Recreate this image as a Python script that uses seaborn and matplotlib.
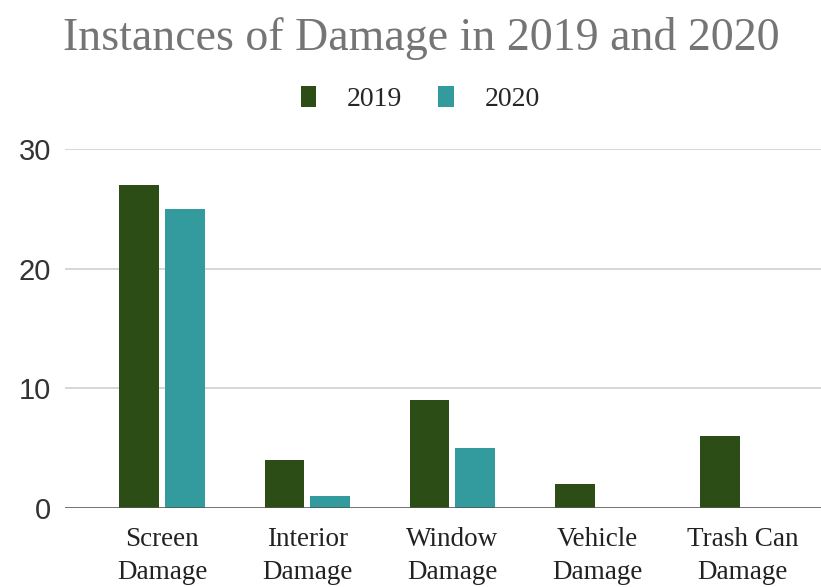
import matplotlib
matplotlib.use("Agg")
import matplotlib.pyplot as plt
import seaborn as sns
import pandas as pd
from matplotlib.patches import Patch

categories = ["Screen\nDamage", "Interior\nDamage", "Window\nDamage", "Vehicle\nDamage", "Trash Can\nDamage"]
years = ["2019", "2020"]
values_2019 = [27, 4, 9, 2, 6]
values_2020 = [25, 1, 5, 0, 0]
y_ticks = [0, 10, 20, 30]
colors = {"2019": "#2d4d16", "2020": "#339a9e"}

df = pd.DataFrame({
    "category": categories * 2,
    "year": [years[0]] * len(categories) + [years[1]] * len(categories),
    "count": values_2019 + values_2020,
})

sns.set_theme(style="white")
serif = ["Liberation Serif", "DejaVu Serif"]
sans = ["Liberation Sans", "DejaVu Sans"]

fig = plt.figure(figsize=(8.21, 5.87), dpi=100)
ax = fig.add_axes([65 / 821, 79 / 587, 1 - 65 / 821, (508 - 149) / 587])

sns.barplot(data=df, x="category", y="count", hue="year", palette=colors,
            width=0.63, gap=0.13, ax=ax, legend=False, saturation=1)

ax.set_xlim(-0.67, 4.54)
ax.set_ylim(0, 30)
ax.set_yticks(y_ticks)
ax.set_yticklabels([str(t) for t in y_ticks], fontsize=21, color="#333333", family=sans)
ax.set_xticks(range(len(categories)))
ax.set_xticklabels(categories, fontsize=19.5, color="#222222", family=serif, linespacing=1.42)
ax.tick_params(axis="both", length=0)
ax.tick_params(axis="x", pad=14)
ax.tick_params(axis="y", pad=10)
ax.set_xlabel("")
ax.set_ylabel("")
ax.grid(axis="y", color="#d0d0d0", linewidth=1.2)
ax.set_axisbelow(True)
for s in ["top", "right", "left", "bottom"]:
    ax.spines[s].set_visible(False)
ax.axhline(0, color="#555555", linewidth=1.8, zorder=5)

for patch in ax.patches:
    patch.set_edgecolor("none")

# title and legend
fig.text(0.513, 0.935, "Instances of Damage in 2019 and 2020", ha="center", va="center",
         fontsize=33, color="#757575", family=serif)
handles = [Patch(facecolor=colors[y], edgecolor="none") for y in years]
fig.legend(handles, years, loc="center", bbox_to_anchor=(0.512, 0.831), ncol=2,
           frameon=False, prop={"family": serif, "size": 20}, handlelength=0.55,
           handleheight=0.75, columnspacing=1.3, handletextpad=1.1)

fig.savefig("out.png", dpi=100)
